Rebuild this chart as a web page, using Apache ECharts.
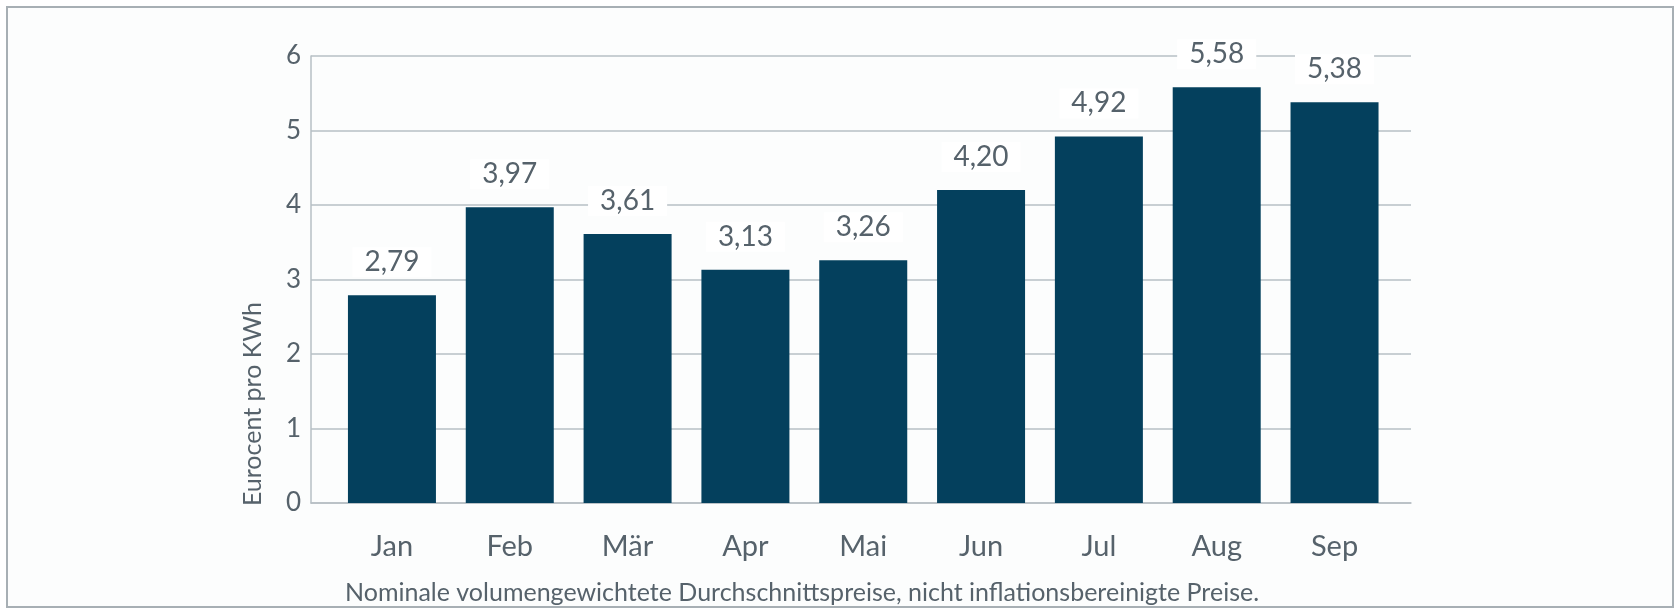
<!DOCTYPE html>
<html>
<head>
<meta charset="utf-8">
<script src="https://cdn.jsdelivr.net/npm/echarts@6/dist/echarts.min.js"></script>
<style>
  html, body { margin: 0; padding: 0; background: #ffffff; }
  #frame {
    position: absolute; left: 6px; top: 6px; width: 1664px; height: 598px;
    border: 2px solid #a7afb4; background: #fcfdfd;
  }
  #chart { position: absolute; left: 0; top: 0; width: 1678px; height: 609px; }
</style>
</head>
<body>
<div id="frame"></div>
<div id="chart"></div>
<script>
// Monate und Preise (Eurocent pro KWh)
var months = ['Jan', 'Feb', 'Mär', 'Apr', 'Mai', 'Jun', 'Jul', 'Aug', 'Sep'];
var prices = [2.79, 3.97, 3.61, 3.13, 3.26, 4.20, 4.92, 5.58, 5.38];
var yTicks = [0, 1, 2, 3, 4, 5, 6];

var textColor = '#56626b';
var lineColor = '#b7bfc4';
var barColor = '#04405d';
var fontName = 'Lato';

var myChart = echarts.init(document.getElementById('chart'));

var barData = prices.map(function (v, i) { return [i, v]; });

var option = {
    animation: false,
    grid: {
        left: 311,
        right: 267,
        top: 56,
        bottom: 106
    },
    xAxis: {
        type: 'value',
        min: -0.687,
        max: 8.649,
        splitLine: { show: false },
        axisLine: { show: true, onZero: false, lineStyle: { color: lineColor, width: 1.5 } },
        axisTick: { show: false },
        axisLabel: {
            customValues: months.map(function (m, i) { return i; }),
            formatter: function (v) { return months[Math.round(v)] || ''; },
            color: textColor,
            fontFamily: fontName,
            fontSize: 29,
            lineHeight: 32,
            margin: 28
        }
    },
    yAxis: {
        type: 'value',
        min: 0,
        max: 6,
        interval: 1,
        axisLine: { show: true, onZero: false, lineStyle: { color: lineColor, width: 1.5 } },
        axisTick: { show: false },
        splitLine: { show: true, lineStyle: { color: lineColor, width: 1.5 } },
        axisLabel: {
            color: textColor,
            fontFamily: fontName,
            fontSize: 26,
            margin: 10,
            formatter: function (v) { return yTicks.indexOf(v) >= 0 ? String(v) : ''; }
        }
    },
    series: [
        {
            type: 'bar',
            data: barData,
            barWidth: 88,
            itemStyle: { color: barColor },
            label: {
                show: true,
                position: 'top',
                distance: 18,
                color: textColor,
                fontFamily: fontName,
                fontSize: 28,
                lineHeight: 30,
                backgroundColor: '#ffffff',
                padding: [0, 12],
                formatter: function (p) { return p.value[1].toFixed(2).replace('.', ','); }
            }
        }
    ],
    graphic: [
        {
            type: 'text',
            left: 240,
            top: 302,
            rotation: Math.PI / 2,
            style: {
                text: 'Eurocent pro KWh',
                fill: textColor,
                font: '25px ' + fontName
            }
        },
        {
            type: 'text',
            left: 345,
            top: 580,
            style: {
                text: 'Nominale volumengewichtete Durchschnittspreise, nicht inflationsbereinigte Preise.',
                fill: textColor,
                font: '25px ' + fontName
            }
        }
    ]
};

myChart.setOption(option);
</script>
</body>
</html>
